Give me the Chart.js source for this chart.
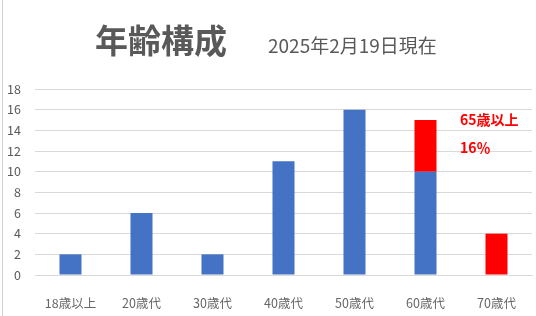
<!DOCTYPE html>
<html>
<head>
<meta charset="utf-8">
<script src="https://cdn.jsdelivr.net/npm/chart.js@4"></script>
<style>
    html, body { margin: 0; padding: 0; background: #fff; }
    #wrap { position: relative; width: 536px; height: 316px; overflow: hidden; }
    #frame { position: absolute; left: 2px; top: 0; width: 600px; height: 400px; border-left: 1px solid #d0d0d0; }
    .txt { position: absolute; white-space: nowrap; font-family: "Noto Sans CJK JP", "Noto Sans", sans-serif; }
    #title { left: 95px; top: 19px; font-size: 33px; font-weight: bold; color: #595959; line-height: 40px; }
    #sub { left: 268px; top: 32px; font-size: 19px; color: #595959; line-height: 26px; }
    .note { left: 460px; font-size: 14px; font-weight: bold; color: #ff0000; line-height: 18px; }
    #n1 { top: 110px; }
    #n2 { top: 138px; }
    canvas { position: absolute; left: 0; top: 0; }
</style>
</head>
<body>
<div id="wrap">
    <canvas id="chart" width="536" height="316"></canvas>
    <div id="frame"></div>
    <div class="txt" id="title">年齢構成</div>
    <div class="txt" id="sub">2025年2月19日現在</div>
    <div class="txt note" id="n1">65歳以上</div>
    <div class="txt note" id="n2">16％</div>
</div>
<script>
let labels = ["18歳以上", "20歳代", "30歳代", "40歳代", "50歳代", "60歳代", "70歳代"];
let under65 = [2, 6, 2, 11, 16, 10, 0];
let over65 = [0, 0, 0, 0, 0, 5, 4];
let yTicks = [0, 2, 4, 6, 8, 10, 12, 14, 16, 18];

let font = {family: "'Noto Sans CJK JP', 'Noto Sans', sans-serif", size: 12.5};

new Chart("chart", {
    type: "bar",
    data: {
        labels: labels,
        datasets: [
            {
                data: under65,
                backgroundColor: "#4472c4",
                barPercentage: 0.31,
                categoryPercentage: 1
            },
            {
                data: over65,
                backgroundColor: "#ff0000",
                barPercentage: 0.31,
                categoryPercentage: 1
            }
        ]
    },
    options: {
        responsive: false,
        animation: false,
        layout: {padding: {top: 89, right: 4, left: 0, bottom: 0}},
        plugins: {
            legend: {display: false},
            tooltip: {enabled: false}
        },
        scales: {
            x: {
                stacked: true,
                grid: {display: false},
                border: {color: "#d9d9d9"},
                ticks: {color: "#666666", font: font, padding: 13, maxRotation: 0},
                afterFit: s => { s.height = 41; }
            },
            y: {
                stacked: true,
                min: 0,
                max: 18,
                grid: {color: "#d9d9d9", drawTicks: false},
                border: {display: false},
                afterBuildTicks: s => { s.ticks = yTicks.map(v => ({value: v})); },
                ticks: {color: "#595959", font: font, padding: 14},
                afterFit: s => { s.width = 35; }
            }
        }
    }
});
</script>
</body>
</html>
